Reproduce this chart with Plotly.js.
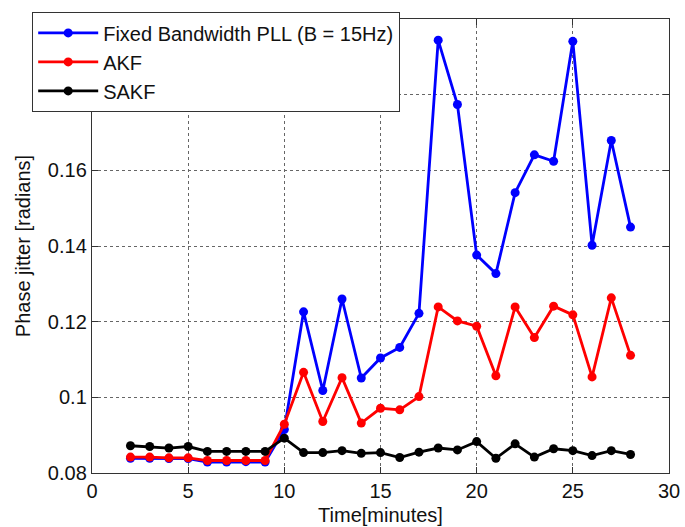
<!DOCTYPE html>
<html>
<head>
<meta charset="utf-8">
<script src="https://cdn.plot.ly/plotly-3.0.1.min.js"></script>
<style>html,body{margin:0;padding:0;background:#fff;}#chart{width:685px;height:527px;}</style>
</head>
<body>
<div id="chart"></div>
<script>
const timeMinutes = [2,3,4,5,6,7,8,9,10,11,12,13,14,15,16,17,18,19,20,21,22,23,24,25,26,27,28];
const pllJitter = [0.0839,0.0839,0.0838,0.0838,0.0829,0.0829,0.0830,0.0829,0.0915,0.1226,0.1018,0.1260,0.1051,0.1104,0.1132,0.1222,0.1944,0.1774,0.1376,0.1327,0.1541,0.1641,0.1624,0.1941,0.1402,0.1679,0.1450];
const akfJitter = [0.0842,0.0842,0.0840,0.0840,0.0833,0.0833,0.0833,0.0833,0.0929,0.1066,0.0936,0.1052,0.0932,0.0971,0.0967,0.1002,0.1239,0.1202,0.1188,0.1057,0.1239,0.1158,0.1241,0.1218,0.1054,0.1263,0.1111];
const sakfJitter = [0.0872,0.0870,0.0866,0.0870,0.0857,0.0857,0.0857,0.0857,0.0892,0.0854,0.0854,0.0859,0.0852,0.0854,0.0841,0.0855,0.0866,0.0861,0.0883,0.0839,0.0877,0.0842,0.0864,0.0859,0.0846,0.0859,0.0849];
const seriesNames = ["Fixed Bandwidth PLL (B = 15Hz)", "AKF", "SAKF"];
const xTickVals = [0,5,10,15,20,25,30];
const xTickText = ["0","5","10","15","20","25","30"];
const yTickVals = [0.08,0.1,0.12,0.14,0.16,0.18,0.2];
const yTickText = ["0.08","0.1","0.12","0.14","0.16","0.18","0.2"];

const font = "Liberation Sans, Arial, sans-serif";
function tr(y, name, color) {
  return {x: timeMinutes, y: y, name: name, type: 'scatter', mode: 'lines+markers',
    line: {color: color, width: 2.8}, marker: {color: color, size: 9, symbol: 'circle'}};
}
const data = [
  tr(pllJitter, seriesNames[0], '#0000ff'),
  tr(akfJitter, seriesNames[1], '#ff0000'),
  tr(sakfJitter, seriesNames[2], '#000000')
];
const axisCommon = {showline: true, linecolor: '#333', linewidth: 1.2, mirror: 'ticks', ticks: 'inside', ticklen: 6, tickcolor: '#333',
  showgrid: true, gridcolor: '#666', griddash: 'dot', gridwidth: 1, zeroline: false,
  tickfont: {family: font, size: 20, color: '#111'}};
const layout = {
  width: 685, height: 527,
  margin: {l: 92, r: 16, t: 13, b: 54},
  paper_bgcolor: '#fff', plot_bgcolor: '#fff',
  showlegend: true,
  xaxis: Object.assign({}, axisCommon, {range: [0, 30], tickvals: xTickVals, ticktext: xTickText,
    title: {text: 'Time[minutes]', font: {family: font, size: 20, color: '#111'}, standoff: 6}}),
  yaxis: Object.assign({}, axisCommon, {range: [0.08, 0.2], tickvals: yTickVals, ticktext: yTickText,
    title: {text: 'Phase jitter [radians]', font: {family: font, size: 20, color: '#111'}, standoff: 11}}),
  legend: {x: -0.104, y: 1.015, xanchor: 'left', yanchor: 'top', bgcolor: '#fff', bordercolor: '#333', borderwidth: 1.2,
    font: {family: font, size: 20, color: '#111'}, itemwidth: 60, tracegroupgap: 0}
};
Plotly.newPlot('chart', data, layout, {displayModeBar: false, staticPlot: true});
</script>
</body>
</html>
